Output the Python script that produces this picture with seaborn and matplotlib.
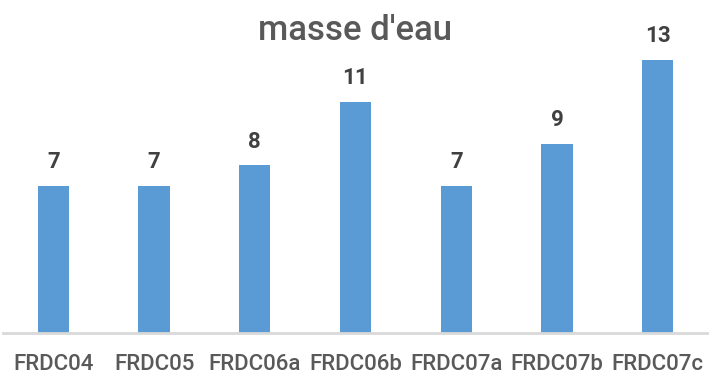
import matplotlib
matplotlib.use("Agg")
import matplotlib.pyplot as plt
import seaborn as sns
import pandas as pd

categories = ["FRDC04", "FRDC05", "FRDC06a", "FRDC06b", "FRDC07a", "FRDC07b", "FRDC07c"]
values = [7, 7, 8, 11, 7, 9, 13]
title_text = "masse d'eau"

sns.set_theme(style="white")
plt.rcParams["font.family"] = ["Roboto", "DejaVu Sans"]

df = pd.DataFrame({"masse": categories, "n": values})

fig = plt.figure(figsize=(7.09, 3.74), dpi=100)
ax = fig.add_axes([3 / 709, 1 - 333 / 374, 705 / 709, 294 / 374])

sns.barplot(data=df, x="masse", y="n", color="#5B9BD5", width=0.31,
            saturation=1, ax=ax, edgecolor="none")

ax.set_ylim(0, 14)
ax.set_xlim(-0.5, len(categories) - 0.5)
for s in ["top", "right", "left"]:
    ax.spines[s].set_visible(False)
ax.spines["bottom"].set_color("#d9d9d9")
ax.spines["bottom"].set_linewidth(2)
ax.set_yticks([])
ax.set_xlabel("")
ax.set_ylabel("")
ax.tick_params(axis="x", length=0, pad=15, labelsize=16, labelcolor="#595959")
for lab in ax.get_xticklabels():
    lab.set_fontweight("medium")

for c in ax.containers:
    ax.bar_label(c, labels=[f"{v:g}" for v in c.datavalues], padding=9,
                 fontsize=16, fontweight="bold", color="#404040")

fig.text(0.5, 1 - 31 / 374, title_text, ha="center", va="center",
         fontsize=25, fontweight="medium", color="#595959")

fig.savefig("out.png", dpi=100)
